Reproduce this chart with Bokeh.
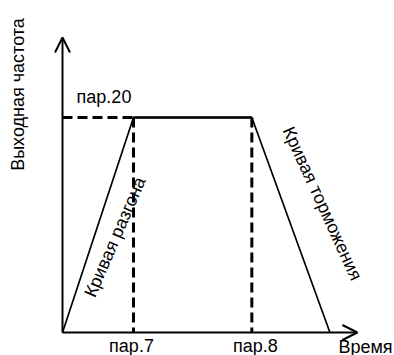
from bokeh.plotting import figure
from bokeh.models import Range1d, Arrow, OpenHead
from bokeh.core.properties import value
from bokeh.embed import file_html
from bokeh.resources import INLINE
import math

# ---- data ----
time_points = [0.0, 3.0, 8.0, 11.3]      # start, end of acceleration (пар.7), start of braking (пар.8), stop
freq_points = [0.0, 1.0, 1.0, 0.0]       # output frequency (пар.20 = 1)
par_time_labels = ["пар.7", "пар.8"]
par_freq_label = "пар.20"
x_axis_label = "Время"
y_axis_label = "Выходная частота"
accel_label = "Кривая разгона"
decel_label = "Кривая торможения"
axis_t_end = 12.46
axis_f_end = 1.372

# ---- layout ----
W, H = 394, 355
px_t = 71 / 3.0
px_f = 215.0
ox, oy = 62, 332   # origin in canvas pixels

p = figure(width=W, height=H, output_backend="svg", toolbar_location=None,
           x_axis_type=None, y_axis_type=None, min_border=0,
           x_range=Range1d(-ox / px_t, (W - ox) / px_t),
           y_range=Range1d(-(H - oy) / px_f, oy / px_f))
p.grid.visible = False
p.outline_line_color = None
p.background_fill_color = "white"
p.border_fill_color = "white"

FONT = value("Liberation Sans")

# axes with arrows
p.add_layout(Arrow(end=OpenHead(size=15, line_width=2, line_color="black"),
                   x_start=0, y_start=0, x_end=0, y_end=axis_f_end,
                   line_width=2, line_color="black"))
p.add_layout(Arrow(end=OpenHead(size=15, line_width=2, line_color="black"),
                   x_start=0, y_start=0, x_end=axis_t_end, y_end=0,
                   line_width=2, line_color="black"))

# dashed helper lines
t7, t8 = time_points[1], time_points[2]
f20 = freq_points[1]
p.segment(x0=[0, t7, t8], y0=[f20, f20, f20], x1=[t7, t7, t8], y1=[f20, 0, 0],
          line_color="black", line_width=3, line_dash="10 5")

# frequency curve
p.line(time_points, freq_points, line_color="black", line_width=1.7)
p.line(time_points[1:3], freq_points[1:3], line_color="black", line_width=2.5)

# labels
def txt(x, y, s, dx, dy, angle=0.0, align="center", baseline="middle"):
    p.text(x=[x], y=[y], text=[s], x_offset=dx, y_offset=dy, angle=angle,
           text_font=FONT, text_font_size="18px", text_color="black",
           text_align=align, text_baseline=baseline)

txt(0, f20, par_freq_label, 41.5, -21)
txt(t7, 0, par_time_labels[0], -2, 13)
txt(t8, 0, par_time_labels[1], 3.5, 13)
txt(axis_t_end, 0, x_axis_label, -19, 14, align="left")
txt(0, f20, y_axis_label, -45, -23, angle=math.pi / 2)
mid_acc_t = (time_points[0] + time_points[1]) / 2
mid_dec_t = (time_points[2] + time_points[3]) / 2
txt(mid_acc_t, f20 / 2, accel_label, 17, 12, angle=math.radians(66.6))
txt(mid_dec_t, f20 / 2, decel_label, 31.5, -21.5, angle=math.radians(-65.5))

open("out.html", "w").write(file_html(p, INLINE))
